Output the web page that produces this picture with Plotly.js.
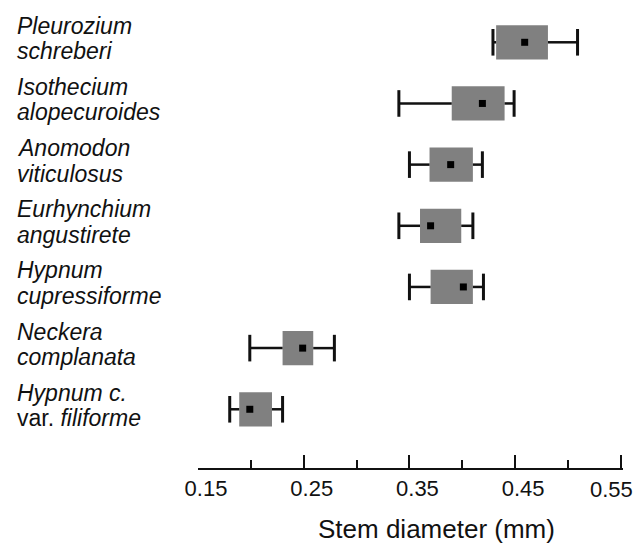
<!DOCTYPE html>
<html>
<head>
<meta charset="utf-8">
<script src="https://cdn.plot.ly/plotly-3.0.1.min.js"></script>
<style>html,body{margin:0;padding:0;background:#fff;}#chart{width:639px;height:543px;}</style>
</head>
<body>
<div id="chart"></div>
<script>
// Species (top to bottom)
var species = ["Pleurozium schreberi","Isothecium alopecuroides","Anomodon viticulosus","Eurhynchium angustirete","Hypnum cupressiforme","Neckera complanata","Hypnum c. var. filiforme"];
var labelTop = ["<i>Pleurozium</i>","<i>Isothecium</i>","<i>Anomodon</i>","<i>Eurhynchium</i>","<i>Hypnum</i>","<i>Neckera</i>","<i>Hypnum c.</i>"];
var labelBottom = ["<i>schreberi</i>","<i>alopecuroides</i>","<i>viticulosus</i>","<i>angustirete</i>","<i>cupressiforme</i>","<i>complanata</i>","var. <i>filiforme</i>"];
// Stem diameter (mm)
var whiskerLow  = [0.429, 0.340, 0.350, 0.340, 0.350, 0.199, 0.180];
var boxLow      = [0.432, 0.390, 0.369, 0.360, 0.370, 0.230, 0.189];
var boxHigh     = [0.481, 0.440, 0.410, 0.399, 0.410, 0.259, 0.220];
var whiskerHigh = [0.509, 0.449, 0.419, 0.410, 0.420, 0.279, 0.230];
var centre      = [0.459, 0.419, 0.389, 0.370, 0.401, 0.249, 0.199];
var tickValues = [0.15, 0.25, 0.35, 0.45, 0.55];
var tickLabels = ["0.15", "0.25", "0.35", "0.45", "0.55"];
var xTitle = "Stem diameter (mm)";

var FONT = "Liberation Sans, Arial, sans-serif";
var nT = tickValues.length;

// whisker segments built from the data
var wx = [], wy = [];
for (var i = 0; i < species.length; i++) {
  wx.push(whiskerLow[i], boxLow[i], null, boxHigh[i], whiskerHigh[i], null);
  wy.push(species[i], species[i], null, species[i], species[i], null);
}
var capX = whiskerLow.concat(whiskerHigh);
var capY = species.concat(species);

var traces = [
  {
    type: "bar", orientation: "h",
    y: species,
    base: boxLow,
    x: boxHigh.map(function (v, i) { return v - boxLow[i]; }),
    width: 0.56,
    marker: { color: "#808080", line: { width: 0 } },
    hoverinfo: "skip", showlegend: false
  },
  {
    type: "scatter", mode: "lines",
    x: wx, y: wy,
    line: { color: "#111", width: 2.5 },
    connectgaps: false, hoverinfo: "skip", showlegend: false
  },
  {
    type: "scatter", mode: "markers",
    x: capX, y: capY,
    marker: { symbol: "line-ns", size: 19, line: { color: "#111", width: 3 } },
    hoverinfo: "skip", showlegend: false
  },
  {
    type: "scatter", mode: "markers",
    x: centre, y: species,
    marker: { symbol: "square", size: 7, color: "#000" },
    hoverinfo: "skip", showlegend: false
  }
];

var annotations = [];
for (var j = 0; j < species.length; j++) {
  annotations.push({
    xref: "paper", yref: "y", x: 0, y: species[j], xanchor: "left", yanchor: "middle",
    xshift: -183, yshift: 16.5, showarrow: false, text: labelTop[j],
    font: { family: FONT, size: 23, color: "#111" }
  });
  annotations.push({
    xref: "paper", yref: "y", x: 0, y: species[j], xanchor: "left", yanchor: "middle",
    xshift: -183, yshift: -9, showarrow: false, text: labelBottom[j],
    font: { family: FONT, size: 23, color: "#111" }
  });
}
// last tick label sits left of its tick (page edge)
annotations.push({
  xref: "x", yref: "paper", x: tickValues[nT - 1], y: 0, xanchor: "center", yanchor: "middle",
  xshift: -9, yshift: -21, showarrow: false, text: tickLabels[nT - 1],
  font: { family: FONT, size: 22, color: "#111" }
});
annotations.push({
  xref: "paper", yref: "paper", x: 0.5623, y: 0, xanchor: "center", yanchor: "top",
  yshift: -44, showarrow: false, text: xTitle,
  font: { family: FONT, size: 26, color: "#111" }
});

var layout = {
  width: 639, height: 543,
  margin: { l: 198, r: 16, t: 10, b: 75 },
  paper_bgcolor: "#fff", plot_bgcolor: "#fff",
  showlegend: false,
  barmode: "overlay",
  xaxis: {
    range: [0.15, 0.552],
    tickvals: tickValues,
    ticktext: tickLabels.slice(0, nT - 1).concat([""]),
    ticks: "inside", ticklen: 13, tickwidth: 2, tickcolor: "#111",
    ticklabelshift: 8,
    showline: true, linewidth: 2, linecolor: "#111",
    showgrid: false, zeroline: false,
    tickfont: { family: FONT, size: 22, color: "#111" },
    minor: { tick0: 0.2, dtick: 0.1, ticks: "inside", ticklen: 8, tickwidth: 2, tickcolor: "#111", showgrid: false },
    fixedrange: true
  },
  yaxis: {
    type: "category",
    categoryorder: "array", categoryarray: species,
    range: [6.96, -0.528],
    showticklabels: false, showline: false, showgrid: false, zeroline: false, ticks: "",
    fixedrange: true
  },
  annotations: annotations
};

Plotly.newPlot("chart", traces, layout, { displayModeBar: false, staticPlot: true });
</script>
</body>
</html>
